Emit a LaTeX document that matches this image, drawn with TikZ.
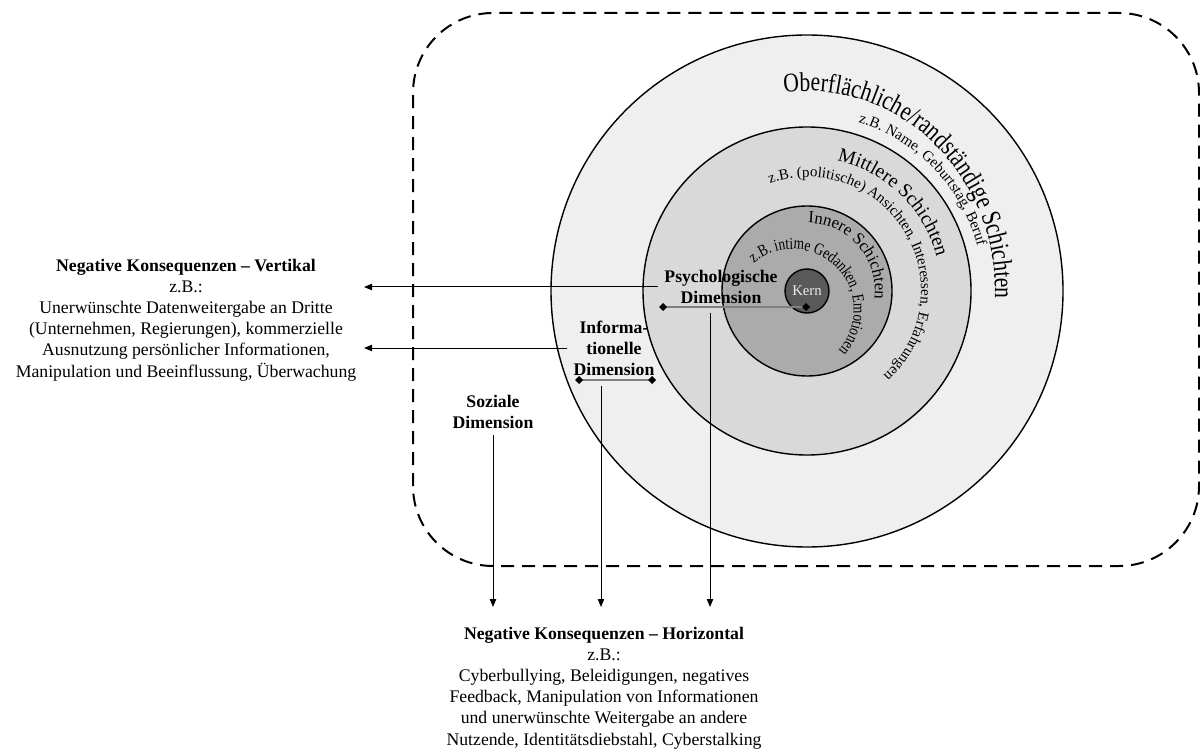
\documentclass[tikz,border=0pt]{standalone}
\usepackage{fontspec}
\setmainfont{Liberation Serif}
\newfontfamily\archfont[FakeStretch=0.8]{Liberation Serif}
\usetikzlibrary{arrows.meta,decorations.text}

\begin{document}
\begin{tikzpicture}[
    ringline/.style={line width=0.035cm},
    conline/.style={line width=0.025cm, -{Triangle[length=0.2cm,width=0.16cm]}},
    dimline/.style={line width=0.05cm, draw=r128g128b128, {Diamond[length=0.2cm,width=0.2cm,color=black]}-{Diamond[length=0.2cm,width=0.2cm,color=black]}},
    dimlabel/.style={font=\bfseries, align=center},
    textblock/.style={align=center, anchor=north, inner sep=0pt},
    arctext/.style={decorate, decoration={text along path, text={#1}}}
]
\useasboundingbox (0.000000,0.000000) rectangle (30.000000,18.725000);%
{\fontsize{12.6}{15}\selectfont

% Changing colors for the layers
\definecolor{r239g239b239}{rgb}{0.937255,0.937255,0.937255}%
\definecolor{r217g217b217}{rgb}{0.850980,0.850980,0.850980}%
\definecolor{r171g171b171}{rgb}{0.670588,0.670588,0.670588}%
\definecolor{r89g89b89}{rgb}{0.349020,0.349020,0.349020}%
\definecolor{r128g128b128}{rgb}{0.501961,0.501961,0.501961}%
\definecolor{r235g235b235}{rgb}{0.921569,0.921569,0.921569}%

% Drawing dashed frame
\draw [line width=0.05cm, dash pattern=on 0.325cm off 0.2cm, rounded corners=2cm] (10.325000,4.575000) rectangle (29.975000,18.400000);%

% Center of the layers
\coordinate (mitte) at (20.175000,11.450000);%
\coordinate (innen) at ([shift={(-0.350000,-0.475000)}]mitte);%

% Drawing layer circles
\draw [ringline, fill=r239g239b239] (mitte) circle (6.400000);%
\draw [ringline, fill=r217g217b217] (mitte) circle (4.100000);%
\draw [ringline, fill=r171g171b171] (mitte) circle (2.125000);%

% Marking core
\node [circle, draw, ringline, fill=r89g89b89, text=r235g235b235, minimum size=1.1cm, inner sep=0pt, font=\fontsize{10.5}{12}\selectfont] (kern) at (mitte) {Kern};%

% Writing layer names along arcs
\path [arctext={|\archfont\fontsize{19.2}{22}\selectfont|Oberflächliche/randständige Schichten}] ([shift={(97:4.700000 and 5.000000)}]mitte) arc [start angle=97, end angle=-60, x radius=4.700000, y radius=5.000000];%
\path [arctext={|\fontsize{10.7}{13}\selectfont|z.B. Name, Geburtstag, Beruf}] ([shift={(73:4.400000)}]mitte) arc [start angle=73, end angle=-60, radius=4.400000];%
\path [arctext={|\fontsize{14}{16}\selectfont|Mittlere Schichten}] ([shift={(77:3.350000)}]mitte) arc [start angle=77, end angle=-60, radius=3.350000];%
\path [arctext={|\fontsize{10.7}{13}\selectfont|z.B. (politische) Ansichten, Interessen, Erfahrungen}] ([shift={(109:2.850000)}]mitte) arc [start angle=109, end angle=-120, radius=2.850000];%
\path [arctext={|\fontsize{12}{14}\selectfont|Innere Schichten}] ([shift={(89:1.700000)}]mitte) arc [start angle=89, end angle=-60, radius=1.700000];%
\path [arctext={|\archfont\fontsize{11.9}{14}\selectfont|z.B. intime Gedanken, Emotionen}] ([shift={(130:1.520000)}]innen) arc [start angle=130, end angle=-120, radius=1.520000];%

% Marking dimension labels
\node [dimlabel] (psych) at (18.025000,11.550000) {Psychologische\\Dimension};%
\node [dimlabel] (info) at (15.350000,10.025000) {Informa-\\tionelle\\Dimension};%
\node [dimlabel] (sozial) at (12.325000,8.425000) {Soziale\\Dimension};%

% Marking consequence texts
\node [textblock] (vertikal) at (4.650000,12.250000) {\textbf{Negative Konsequenzen – Vertikal}\\z.B.:\\Unerwünschte Datenweitergabe an Dritte\\(Unternehmen, Regierungen), kommerzielle\\Ausnutzung persönlicher Informationen,\\Manipulation und Beeinflussung, Überwachung};%
\node [textblock] (horizontal) at (15.100000,3.050000) {\textbf{Negative Konsequenzen – Horizontal}\\z.B.:\\Cyberbullying, Beleidigungen, negatives\\Feedback, Manipulation von Informationen\\und unerwünschte Weitergabe an andere\\Nutzende, Identitätsdiebstahl, Cyberstalking};%

% Drawing diamond bars
\coordinate (psy-l) at (16.475000,11.050000);%
\coordinate (psy-r) at (20.250000,11.050000);%
\draw [dimline] (psy-l) -- (psy-r);%
\coordinate (inf-l) at (14.375000,9.225000);%
\coordinate (inf-r) at (16.400000,9.225000);%
\draw [dimline] (inf-l) -- (inf-r);%

% Drawing arrows to the left
\coordinate (vert-a) at (9.100000,11.550000);%
\coordinate (vert-b) at (9.100000,10.025000);%
\draw [conline] (psych.west) -- (vert-a);%
\draw [conline] (info.west) -- (vert-b);%

% Drawing arrows downwards
\coordinate (psy-d) at (17.750000,10.900000);%
\coordinate (psy-e) at (17.750000,3.550000);%
\coordinate (inf-d) at (15.025000,9.075000);%
\coordinate (inf-e) at (15.025000,3.550000);%
\coordinate (soz-e) at (12.325000,3.550000);%
\draw [conline] (psy-d) -- (psy-e);%
\draw [conline] (inf-d) -- (inf-e);%
\draw [conline] (sozial.south) -- (soz-e);%
}
\end{tikzpicture}
\end{document}
